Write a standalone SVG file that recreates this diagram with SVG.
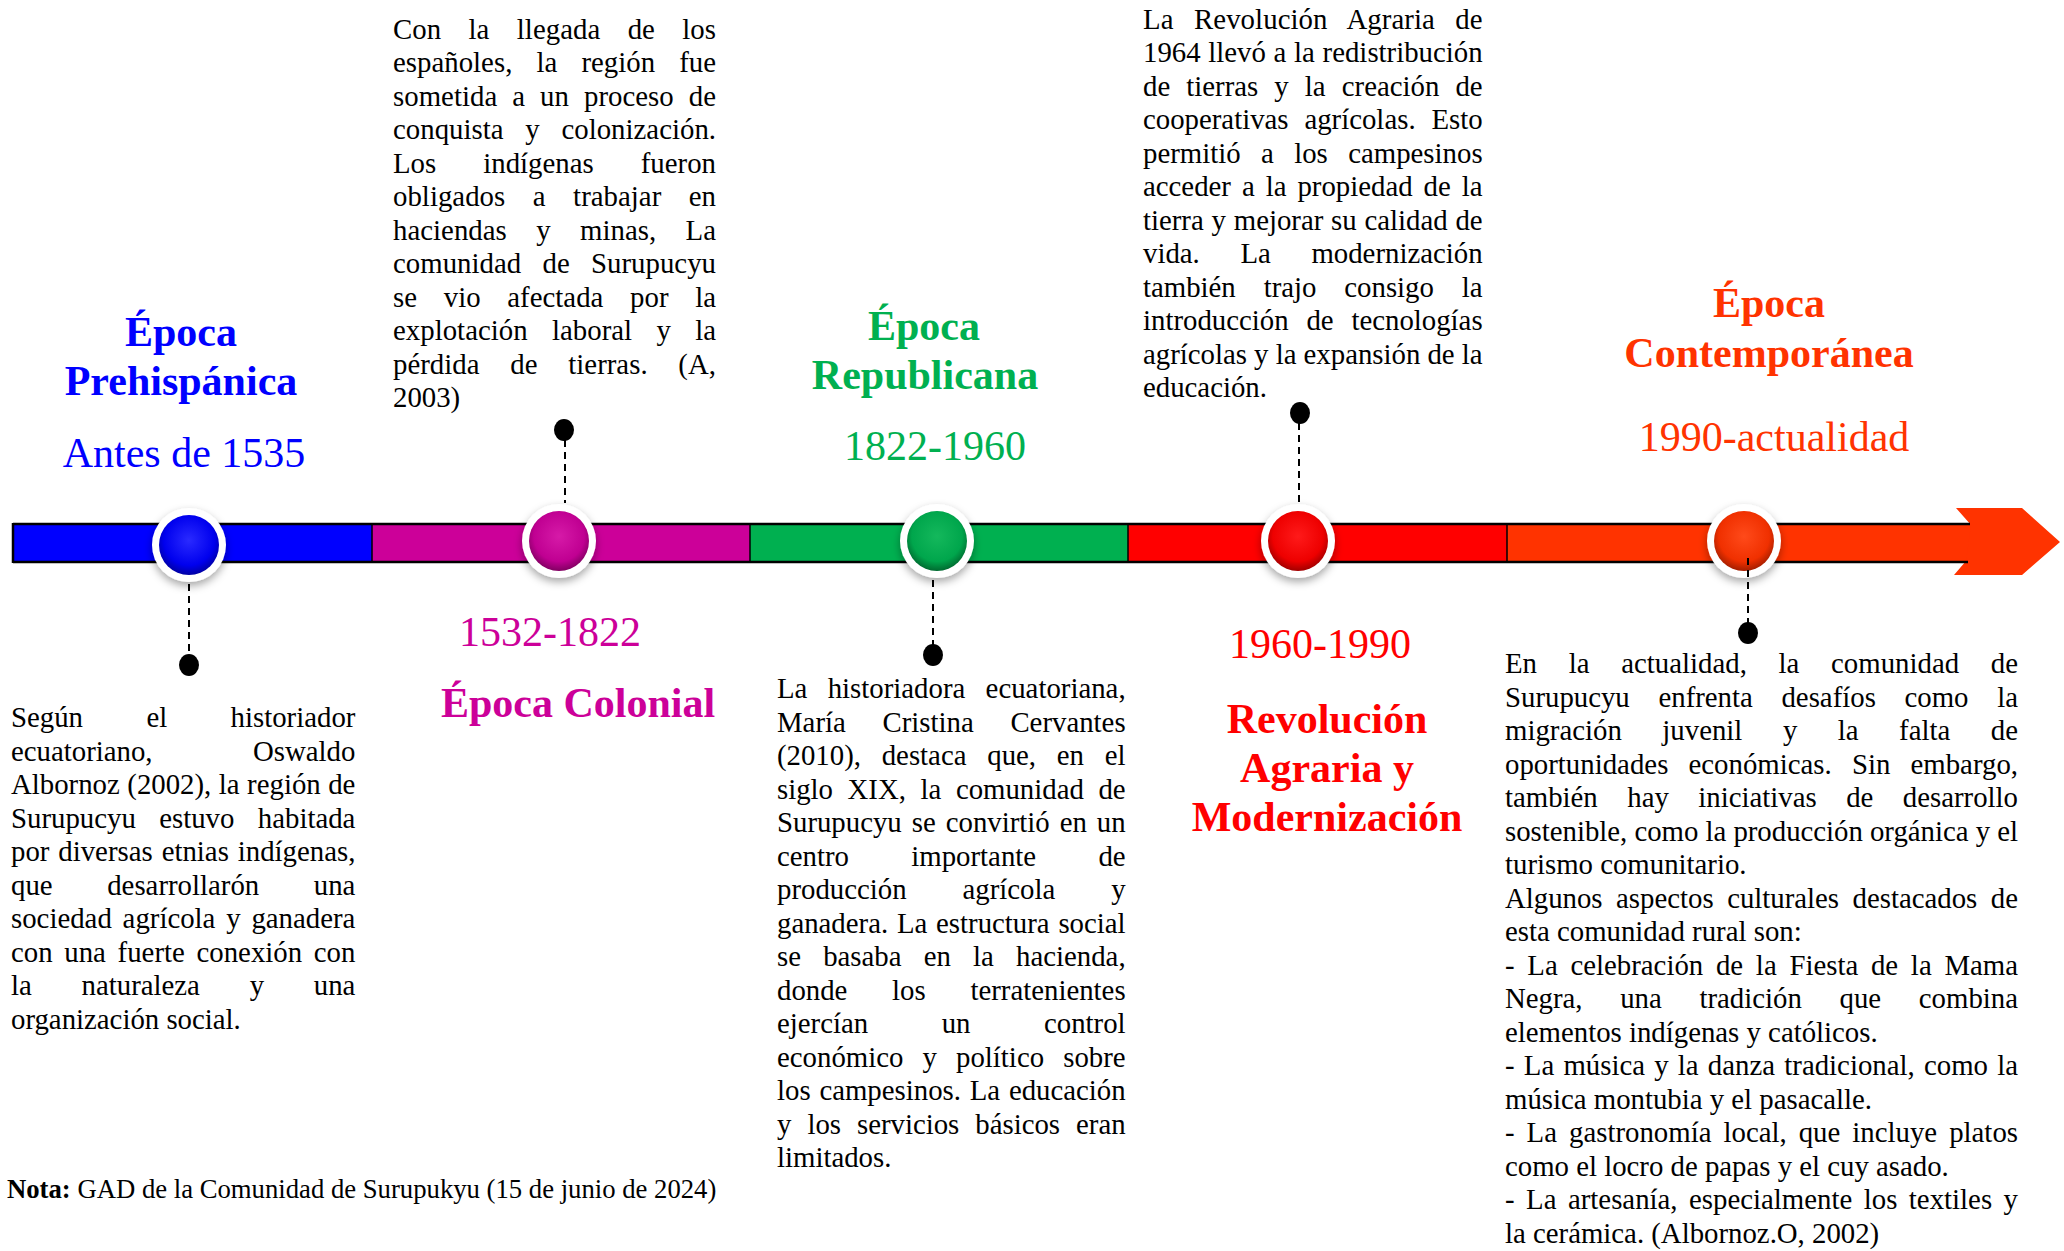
<svg xmlns="http://www.w3.org/2000/svg" width="2064" height="1251" viewBox="0 0 2064 1251">
<style>
text{font-family:"Liberation Serif","Times New Roman",serif}
.b{font-size:28.8px;fill:#000}
.tb{font-size:42px;font-weight:bold;text-anchor:middle}
.tr{font-size:42px;text-anchor:middle}
.nota{font-size:26.7px;fill:#000}
.dash{stroke:#000;stroke-width:2;stroke-dasharray:7 5;fill:none}
.ring{fill:#fff;filter:url(#sh)}
</style>
<defs>
<filter id="sh" x="-50%" y="-50%" width="200%" height="200%">
<feDropShadow dx="0" dy="4" stdDeviation="4" flood-color="#000" flood-opacity="0.35"/>
</filter>
<radialGradient id="gB" cx="50%" cy="42%" r="60%"><stop offset="0" stop-color="#2a2aff"/><stop offset="0.7" stop-color="#0000ee"/><stop offset="1" stop-color="#00009a"/></radialGradient>
<radialGradient id="gM" cx="50%" cy="42%" r="60%"><stop offset="0" stop-color="#d61aa8"/><stop offset="0.7" stop-color="#c00092"/><stop offset="1" stop-color="#7a005c"/></radialGradient>
<radialGradient id="gG" cx="50%" cy="42%" r="60%"><stop offset="0" stop-color="#14b85c"/><stop offset="0.7" stop-color="#00a64c"/><stop offset="1" stop-color="#00622c"/></radialGradient>
<radialGradient id="gR" cx="50%" cy="42%" r="60%"><stop offset="0" stop-color="#ff1a1a"/><stop offset="0.7" stop-color="#ee0000"/><stop offset="1" stop-color="#980000"/></radialGradient>
<radialGradient id="gO" cx="50%" cy="42%" r="60%"><stop offset="0" stop-color="#ff4a1a"/><stop offset="0.7" stop-color="#f03000"/><stop offset="1" stop-color="#9a1c00"/></radialGradient>
</defs>
<rect width="2064" height="1251" fill="#fff"/>

<g id="timeline-bar">
<rect x="13" y="524" width="359" height="38" fill="#0000FF"/>
<rect x="372" y="524" width="378" height="38" fill="#CC0099"/>
<rect x="750" y="524" width="378" height="38" fill="#00B050"/>
<rect x="1128" y="524" width="379" height="38" fill="#FF0000"/>
<rect x="1507" y="524" width="464" height="38" fill="#FF3300"/>
<polygon points="1956,508 2022,508 2060,542 2022,575 1954,575 1966,561 1971,525" fill="#FF3300"/>
<path d="M13,524 H1970 M13,562 H1968 M13,523 V563" stroke="#000" stroke-width="2.5" fill="none"/>
<path d="M372,524 V562 M750,524 V562 M1128,524 V562 M1507,524 V562" stroke="#000" stroke-width="1.5" fill="none"/>
</g>

<g id="connectors">
<line class="dash" x1="189" y1="584" x2="189" y2="655"/>
<ellipse cx="189" cy="665" rx="10" ry="11" fill="#000"/>
<line class="dash" x1="565" y1="440" x2="565" y2="503"/>
<ellipse cx="564" cy="430" rx="10" ry="11" fill="#000"/>
<line class="dash" x1="933" y1="580" x2="933" y2="646"/>
<ellipse cx="933" cy="655" rx="10" ry="11" fill="#000"/>
<line class="dash" x1="1299" y1="423" x2="1299" y2="503"/>
<ellipse cx="1300" cy="413" rx="10" ry="11" fill="#000"/>
</g>

<g id="prehispanica">
<circle class="ring" cx="189" cy="545" r="37"/>
<circle cx="189" cy="545" r="30" fill="url(#gB)"/>
<text class="tb" x="181" y="346" fill="#0000FF">Época</text>
<text class="tb" x="181" y="395" fill="#0000FF">Prehispánica</text>
<text class="tr" x="184" y="467" fill="#0000FF">Antes de 1535</text>
<text class="b" x="11" y="727" word-spacing="56.2" textLength="344.4" lengthAdjust="spacing">Según el historiador</text>
<text class="b" x="11" y="760.5" word-spacing="93.3" textLength="344.4" lengthAdjust="spacing">ecuatoriano, Oswaldo</text>
<text class="b" x="11" y="794" word-spacing="0.3" textLength="344.4" lengthAdjust="spacing">Albornoz (2002), la región de</text>
<text class="b" x="11" y="827.5" word-spacing="16.2" textLength="344.4" lengthAdjust="spacing">Surupucyu estuvo habitada</text>
<text class="b" x="11" y="861" word-spacing="1.7" textLength="344.4" lengthAdjust="spacing">por diversas etnias indígenas,</text>
<text class="b" x="11" y="894.5" word-spacing="47.4" textLength="344.4" lengthAdjust="spacing">que desarrollarón una</text>
<text class="b" x="11" y="928" word-spacing="3.6" textLength="344.4" lengthAdjust="spacing">sociedad agrícola y ganadera</text>
<text class="b" x="11" y="961.5" word-spacing="4.5" textLength="344.4" lengthAdjust="spacing">con una fuerte conexión con</text>
<text class="b" x="11" y="995" word-spacing="42.6" textLength="344.4" lengthAdjust="spacing">la naturaleza y una</text>
<text class="b" x="11" y="1028.5">organización social.</text>
</g>

<g id="colonial">
<circle class="ring" cx="559" cy="541" r="37"/>
<circle cx="559" cy="541" r="30" fill="url(#gM)"/>
<text class="tr" x="550" y="646" fill="#CC0099">1532-1822</text>
<text class="tb" x="578" y="717" fill="#CC0099">Época Colonial</text>
<text class="b" x="393" y="38.5" word-spacing="20.2" textLength="323" lengthAdjust="spacing">Con la llegada de los</text>
<text class="b" x="393" y="72" word-spacing="16.9" textLength="323" lengthAdjust="spacing">españoles, la región fue</text>
<text class="b" x="393" y="105.5" word-spacing="7.8" textLength="323" lengthAdjust="spacing">sometida a un proceso de</text>
<text class="b" x="393" y="139" word-spacing="14.5" textLength="323" lengthAdjust="spacing">conquista y colonización.</text>
<text class="b" x="393" y="172.5" word-spacing="39.7" textLength="323" lengthAdjust="spacing">Los indígenas fueron</text>
<text class="b" x="393" y="206" word-spacing="20.3" textLength="323" lengthAdjust="spacing">obligados a trabajar en</text>
<text class="b" x="393" y="239.5" word-spacing="22.2" textLength="323" lengthAdjust="spacing">haciendas y minas, La</text>
<text class="b" x="393" y="273" word-spacing="14.1" textLength="323" lengthAdjust="spacing">comunidad de Surupucyu</text>
<text class="b" x="393" y="306.5" word-spacing="19.4" textLength="323" lengthAdjust="spacing">se vio afectada por la</text>
<text class="b" x="393" y="340" word-spacing="17.1" textLength="323" lengthAdjust="spacing">explotación laboral y la</text>
<text class="b" x="393" y="373.5" word-spacing="23.5" textLength="323" lengthAdjust="spacing">pérdida de tierras. (A,</text>
<text class="b" x="393" y="407">2003)</text>
</g>

<g id="republicana">
<circle class="ring" cx="937" cy="541" r="37"/>
<circle cx="937" cy="541" r="30" fill="url(#gG)"/>
<text class="tb" x="924" y="340" fill="#00B050">Época</text>
<text class="tb" x="925" y="389" fill="#00B050">Republicana</text>
<text class="tr" x="935" y="460" fill="#00B050">1822-1960</text>
<text class="b" x="777" y="698" word-spacing="13.1" textLength="348.6" lengthAdjust="spacing">La historiadora ecuatoriana,</text>
<text class="b" x="777" y="731.5" word-spacing="29.5" textLength="348.6" lengthAdjust="spacing">María Cristina Cervantes</text>
<text class="b" x="777" y="765" word-spacing="13.6" textLength="348.6" lengthAdjust="spacing">(2010), destaca que, en el</text>
<text class="b" x="777" y="798.5" word-spacing="7.4" textLength="348.6" lengthAdjust="spacing">siglo XIX, la comunidad de</text>
<text class="b" x="777" y="832" word-spacing="2.8" textLength="348.6" lengthAdjust="spacing">Surupucyu se convirtió en un</text>
<text class="b" x="777" y="865.5" word-spacing="55.1" textLength="348.6" lengthAdjust="spacing">centro importante de</text>
<text class="b" x="777" y="899" word-spacing="48.7" textLength="348.6" lengthAdjust="spacing">producción agrícola y</text>
<text class="b" x="777" y="932.5" word-spacing="1.6" textLength="348.6" lengthAdjust="spacing">ganadera. La estructura social</text>
<text class="b" x="777" y="966" word-spacing="15" textLength="348.6" lengthAdjust="spacing">se basaba en la hacienda,</text>
<text class="b" x="777" y="999.5" word-spacing="37.5" textLength="348.6" lengthAdjust="spacing">donde los terratenientes</text>
<text class="b" x="777" y="1033" word-spacing="66.3" textLength="348.6" lengthAdjust="spacing">ejercían un control</text>
<text class="b" x="777" y="1066.5" word-spacing="11.9" textLength="348.6" lengthAdjust="spacing">económico y político sobre</text>
<text class="b" x="777" y="1100" word-spacing="1.6" textLength="348.6" lengthAdjust="spacing">los campesinos. La educación</text>
<text class="b" x="777" y="1133.5" word-spacing="8.8" textLength="348.6" lengthAdjust="spacing">y los servicios básicos eran</text>
<text class="b" x="777" y="1167">limitados.</text>
</g>

<g id="revolucion-agraria">
<circle class="ring" cx="1298" cy="541" r="37"/>
<circle cx="1298" cy="541" r="30" fill="url(#gR)"/>
<text class="tr" x="1320" y="658" fill="#FF0000">1960-1990</text>
<text class="tb" x="1327" y="733" fill="#FF0000">Revolución</text>
<text class="tb" x="1327" y="782" fill="#FF0000">Agraria y</text>
<text class="tb" x="1327" y="831" fill="#FF0000">Modernización</text>
<text class="b" x="1143" y="28.5" word-spacing="13.2" textLength="339.6" lengthAdjust="spacing">La Revolución Agraria de</text>
<text class="b" x="1143" y="62" word-spacing="0.5" textLength="339.6" lengthAdjust="spacing">1964 llevó a la redistribución</text>
<text class="b" x="1143" y="95.5" word-spacing="8.9" textLength="339.6" lengthAdjust="spacing">de tierras y la creación de</text>
<text class="b" x="1143" y="129" word-spacing="8.6" textLength="339.6" lengthAdjust="spacing">cooperativas agrícolas. Esto</text>
<text class="b" x="1143" y="162.5" word-spacing="13.2" textLength="339.6" lengthAdjust="spacing">permitió a los campesinos</text>
<text class="b" x="1143" y="196" word-spacing="3.8" textLength="339.6" lengthAdjust="spacing">acceder a la propiedad de la</text>
<text class="b" x="1143" y="229.5" word-spacing="0.6" textLength="339.6" lengthAdjust="spacing">tierra y mejorar su calidad de</text>
<text class="b" x="1143" y="263" word-spacing="33.4" textLength="339.6" lengthAdjust="spacing">vida. La modernización</text>
<text class="b" x="1143" y="296.5" word-spacing="20.7" textLength="339.6" lengthAdjust="spacing">también trajo consigo la</text>
<text class="b" x="1143" y="330" word-spacing="10.6" textLength="339.6" lengthAdjust="spacing">introducción de tecnologías</text>
<text class="b" x="1143" y="363.5" textLength="339.6" lengthAdjust="spacing">agrícolas y la expansión de la</text>
<text class="b" x="1143" y="397">educación.</text>
</g>

<g id="contemporanea">
<circle class="ring" cx="1744" cy="541" r="37"/>
<circle cx="1744" cy="541" r="30" fill="url(#gO)"/>
<text class="tb" x="1769" y="317" fill="#FF3300">Época</text>
<text class="tb" x="1769" y="367" fill="#FF3300">Contemporánea</text>
<text class="tr" x="1774" y="451" fill="#FF3300">1990-actualidad</text>
<text class="b" x="1505" y="673" word-spacing="24.5" textLength="513" lengthAdjust="spacing">En la actualidad, la comunidad de</text>
<text class="b" x="1505" y="706.5" word-spacing="21.5" textLength="513" lengthAdjust="spacing">Surupucyu enfrenta desafíos como la</text>
<text class="b" x="1505" y="740" word-spacing="33.3" textLength="513" lengthAdjust="spacing">migración juvenil y la falta de</text>
<text class="b" x="1505" y="773.5" word-spacing="12.9" textLength="513" lengthAdjust="spacing">oportunidades económicas. Sin embargo,</text>
<text class="b" x="1505" y="807" word-spacing="22.3" textLength="513" lengthAdjust="spacing">también hay iniciativas de desarrollo</text>
<text class="b" x="1505" y="840.5" textLength="513" lengthAdjust="spacing">sostenible, como la producción orgánica y el</text>
<text class="b" x="1505" y="874">turismo comunitario.</text>
<text class="b" x="1505" y="907.5" word-spacing="6.3" textLength="513" lengthAdjust="spacing">Algunos aspectos culturales destacados de</text>
<text class="b" x="1505" y="941">esta comunidad rural son:</text>
<text class="b" x="1505" y="974.5" word-spacing="5.5" textLength="513" lengthAdjust="spacing">- La celebración de la Fiesta de la Mama</text>
<text class="b" x="1505" y="1008" word-spacing="30.5" textLength="513" lengthAdjust="spacing">Negra, una tradición que combina</text>
<text class="b" x="1505" y="1041.5">elementos indígenas y católicos.</text>
<text class="b" x="1505" y="1075" word-spacing="2" textLength="513" lengthAdjust="spacing">- La música y la danza tradicional, como la</text>
<text class="b" x="1505" y="1108.5">música montubia y el pasacalle.</text>
<text class="b" x="1505" y="1142" word-spacing="4.8" textLength="513" lengthAdjust="spacing">- La gastronomía local, que incluye platos</text>
<text class="b" x="1505" y="1175.5">como el locro de papas y el cuy asado.</text>
<text class="b" x="1505" y="1209" word-spacing="4.3" textLength="513" lengthAdjust="spacing">- La artesanía, especialmente los textiles y</text>
<text class="b" x="1505" y="1242.5">la cerámica. (Albornoz.O, 2002)</text>
</g>

<g id="connector-contemporanea">
<line class="dash" x1="1748" y1="558" x2="1748" y2="624"/>
<ellipse cx="1748" cy="633" rx="10" ry="11" fill="#000"/>
</g>

<g id="nota">
<text class="nota" x="7" y="1198"><tspan font-weight="bold">Nota:</tspan> GAD de la Comunidad de Surupukyu (15 de junio de 2024)</text>
</g>
</svg>
